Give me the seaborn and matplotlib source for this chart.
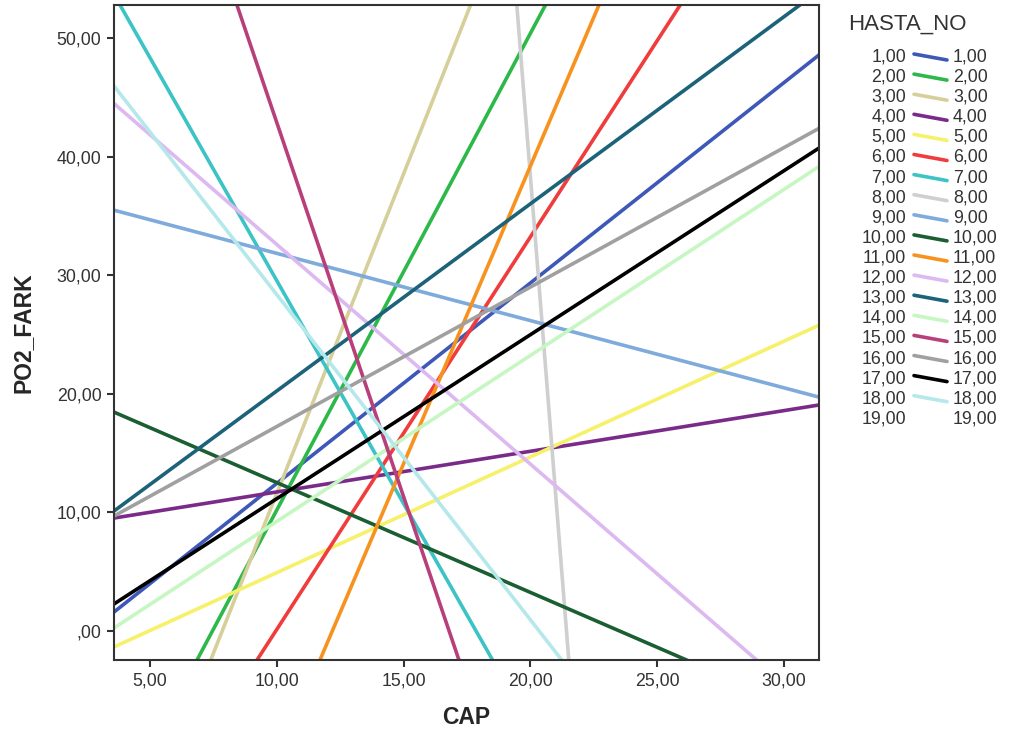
import numpy as np
import pandas as pd
import matplotlib
matplotlib.use("Agg")
import matplotlib.pyplot as plt
from matplotlib.lines import Line2D
from matplotlib.ticker import FuncFormatter
import seaborn as sns

# Data: per-patient fit lines (PO2_FARK = intercept + slope * CAP)
patients = ["1,00", "2,00", "3,00", "4,00", "5,00", "6,00", "7,00", "8,00", "9,00",
            "10,00", "11,00", "12,00", "13,00", "14,00", "15,00", "16,00", "17,00", "18,00"]
all_patients = patients + ["19,00"]
intercepts = [-4.45, -30.0, -42.3, 8.30, -4.84, -32.97, 67.16, 577.5, 37.53,
              21.78, -61.2, 51.13, 4.47, -4.76, 106.0, 5.49, -2.67, 55.8]
slopes = [1.69, 4.02, 5.39, 0.343, 0.976, 3.31, -3.76, -26.95, -0.567,
          -0.926, 5.02, -1.852, 1.578, 1.40, -6.31, 1.176, 1.383, -2.742]
colors = ["#3e58b8", "#2db84a", "#d6cf9a", "#7a2b8a", "#f7f06b", "#f03c3c",
          "#3cc3c6", "#cfcfcf", "#7faadc", "#1a5e32", "#f7921e", "#dcb9f0",
          "#1c6379", "#c6f7c2", "#b8407a", "#a0a0a0", "#000000", "#b5e8ea"]

x_lim = (3.58, 31.39)
y_lim = (-2.45, 52.8)
x_ticks = [5, 10, 15, 20, 25, 30]
y_ticks = [0, 10, 20, 30, 40, 50]

rows = []
for p, a, b in zip(patients, intercepts, slopes):
    for xv in x_lim:
        rows.append({"HASTA_NO": p, "CAP": xv, "PO2_FARK": a + b * xv})
df = pd.DataFrame(rows)

sns.set_style("white")
plt.rcParams["font.family"] = ["Liberation Sans", "DejaVu Sans"]

fig = plt.figure(figsize=(10.09, 7.35), dpi=100)
ax = fig.add_axes([0.113, 0.102, 0.6987, 0.891])

sns.lineplot(data=df, x="CAP", y="PO2_FARK", hue="HASTA_NO",
             palette=dict(zip(patients, colors)), hue_order=patients,
             estimator=None, sort=False, linewidth=2.6, legend=False, ax=ax)

ax.set_xlim(*x_lim)
ax.set_ylim(*y_lim)
ax.set_xticks(x_ticks)
ax.set_yticks(y_ticks)

def fmt(v, pos):
    s = f"{v:.2f}".replace(".", ",")
    if s.startswith("0,"):
        s = s[1:]
    return s

ax.xaxis.set_major_formatter(FuncFormatter(fmt))
ax.yaxis.set_major_formatter(FuncFormatter(fmt))
ax.tick_params(axis="both", which="major", direction="out", length=5, width=1.5,
               color="#333333", labelsize=12.8, labelcolor="#333333",
               bottom=True, left=True, top=False, right=False, pad=4)
for s in ax.spines.values():
    s.set_color("#333333")
    s.set_linewidth(1.5)
ax.set_xlabel("CAP", fontsize=16.5, fontweight="bold", labelpad=12)
ax.set_ylabel("PO2_FARK", fontsize=16.5, fontweight="bold", labelpad=16)

# Legend (SPSS style: label, line sample, label)
fig.text(848 / 1009, 1 - 24 / 735, "HASTA_NO", fontsize=16, color="#333333",
         va="center", ha="left")
y0 = 57
dy = 20.1
color_map = dict(zip(patients, colors))
for i, p in enumerate(all_patients):
    yy = 1 - (y0 + i * dy) / 735
    fig.text(906 / 1009, yy, p, fontsize=12.8, color="#333333", va="center", ha="right")
    if p in color_map:
        fig.add_artist(Line2D([914 / 1009, 947 / 1009], [yy + 3 / 735, yy - 3 / 735],
                              transform=fig.transFigure, color=color_map[p],
                              linewidth=2.6, solid_capstyle="round"))
    fig.text(953 / 1009, yy, p, fontsize=12.8, color="#333333", va="center", ha="left")

fig.savefig("out.png", dpi=100)
